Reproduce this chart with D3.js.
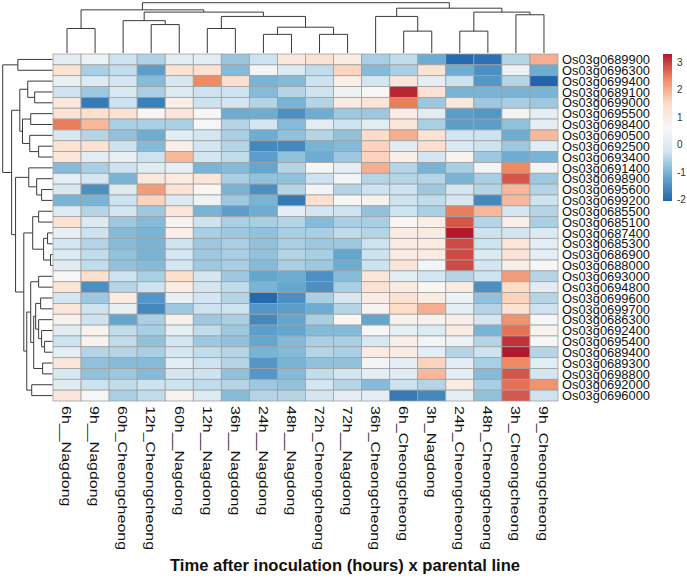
<!DOCTYPE html>
<html>
<head>
<meta charset="utf-8">
<script src="https://cdn.jsdelivr.net/npm/d3@7"></script>
<style>
  body { margin: 0; background: #fff; }
  svg { display: block; font-family: "Liberation Sans", Arial, sans-serif; }
</style>
</head>
<body>
<svg id="chart" width="687" height="584"></svg>
<script>
// column labels in dendrogram order
const colLabels = ["6h__Nagdong", "9h__Nagdong", "60h_Cheongcheong", "12h_Cheongcheong", "60h__Nagdong",
  "12h__Nagdong", "36h__Nagdong", "24h__Nagdong", "48h__Nagdong", "72h_Cheongcheong", "72h__Nagdong",
  "36h_Cheongcheong", "6h_Cheongcheong", "3h_Nagdong", "24h_Cheongcheong", "48h_Cheongcheong",
  "3h_Cheongcheong", "9h_Cheongcheong"];

const rowLabels = ["Os03g0689900", "Os03g0696300", "Os03g0699400", "Os03g0689100", "Os03g0699000",
  "Os03g0695500", "Os03g0698400", "Os03g0690500", "Os03g0692500", "Os03g0693400", "Os03g0691400",
  "Os03g0698900", "Os03g0695600", "Os03g0699200", "Os03g0685500", "Os03g0685100", "Os03g0687400",
  "Os03g0685300", "Os03g0686900", "Os03g0688000", "Os03g0693000", "Os03g0694800", "Os03g0699600",
  "Os03g0699700", "Os03g0686300", "Os03g0692400", "Os03g0695400", "Os03g0689400", "Os03g0689300",
  "Os03g0698800", "Os03g0692000", "Os03g0696000"];

// scaled expression, one row per gene
const values = [
  [0.1, 0.4, -0.3, -0.55, 0.1, 0.1, -0.75, -0.3, 1.1, 1.3, 1.0, -0.6, -0.4, -1.1, -2.0, -1.9, -0.5, 2.0],
  [1.3, -0.6, -0.4, -1.3, 1.3, 1.3, -0.9, 0.5, 0.0, -0.4, 1.6, -0.9, -0.6, 1.3, -1.1, -1.5, 0.4, -1.1],
  [0.3, 0.0, -0.2, -0.9, -0.1, 2.4, 1.4, -1.0, -0.9, -0.3, 0.9, -0.2, 1.2, 0.2, -0.3, -1.4, -0.5, -2.05],
  [-0.3, -0.7, -0.1, -0.6, 0.0, -0.3, -0.3, -0.9, -0.5, -0.3, 0.4, 0.6, 3.2, 1.3, -1.0, -1.0, -1.0, -1.0],
  [1.1, -1.8, -0.3, -1.7, 0.9, -0.3, -0.2, -0.5, -1.0, -0.5, 1.0, 1.2, 2.5, -0.7, 1.1, -0.7, -0.6, -0.7],
  [1.3, 1.4, 1.3, 0.7, 1.2, 0.6, -1.1, -1.1, -1.5, -1.1, -0.7, -0.7, 1.0, 0.1, -1.3, -1.4, 0.5, 0.2],
  [2.5, 1.9, -0.6, -0.6, -0.6, 0.6, -0.5, -0.2, -0.9, 0.1, -0.3, 0.1, 1.2, -0.6, -1.3, -1.3, -0.8, 0.2],
  [-0.1, -0.5, -0.8, -1.1, 0.1, -0.2, -0.6, -1.1, -0.8, -0.5, -0.8, 1.5, 2.0, 1.3, -0.2, -0.3, -1.1, 1.9],
  [1.3, 1.3, -0.3, -0.9, 0.9, -0.2, -0.5, -1.6, -1.6, -1.0, -0.9, 1.6, 0.1, 1.4, 0.0, -0.3, -0.7, 0.1],
  [1.2, 0.1, 0.3, -0.3, 1.9, -0.2, -0.4, -1.3, -0.8, -1.1, -0.7, 1.6, 0.9, -0.2, 0.8, -0.7, -1.1, -1.0],
  [-0.9, -0.6, -0.3, 0.1, 0.3, -1.0, -0.9, -1.2, -0.5, 0.6, 0.2, 2.0, -0.5, -1.0, -0.6, 0.5, 2.4, 0.5],
  [0.2, -0.2, -1.0, 1.1, 1.0, 1.2, -0.6, -0.8, -0.8, -0.3, 0.5, -0.5, -0.5, -0.5, -1.0, -0.6, 2.8, -0.7],
  [-0.1, -1.5, 0.0, 2.2, 1.3, 0.7, -1.0, -1.5, -0.5, 0.5, -0.5, -0.3, -0.3, -0.7, -0.2, -0.5, 1.9, -0.5],
  [-1.0, -1.0, -0.3, 1.6, 0.0, 0.4, -0.7, -1.0, -1.8, 1.4, 0.6, 0.8, -0.3, -0.4, -0.1, -1.6, 1.9, -0.3],
  [0.0, -0.5, -0.2, -0.7, 1.2, -1.0, -1.3, -1.1, 0.2, -0.2, -0.3, -0.8, -0.3, -0.6, 2.5, 1.9, -0.2, -0.5],
  [1.3, 0.0, -0.7, -0.9, 0.8, -0.3, -0.6, -0.6, -0.5, -0.9, -0.6, -0.6, 0.7, 0.9, 2.8, -0.5, 0.9, -0.6],
  [0.3, -0.3, -0.9, -1.0, 0.9, -0.6, -0.7, -0.8, -0.6, -0.6, -0.4, -0.5, 1.0, 1.0, 3.3, -0.3, -0.2, 0.0],
  [-0.2, -0.5, -0.9, -1.0, -0.3, -0.7, -0.6, -0.8, -0.6, -0.7, -0.7, -0.3, 1.0, 1.0, 2.9, -0.3, 1.2, 0.2],
  [0.0, -0.4, -0.8, -1.0, -0.2, -0.7, -0.6, -0.8, -0.5, -0.6, -1.2, -0.3, 1.0, 1.0, 2.9, 0.0, 1.2, 0.2],
  [0.1, -0.4, -0.8, -0.9, -0.2, -0.7, -0.6, -0.9, -0.6, -0.7, -1.1, -0.3, 1.2, 0.5, 2.9, -0.2, 0.9, 0.6],
  [0.6, 1.4, -0.3, -0.6, 1.4, -0.2, -0.7, -1.2, -1.1, -1.5, -0.9, 1.2, 0.1, -0.2, -0.5, -0.3, 2.2, -0.5],
  [1.2, -1.5, -0.5, -0.3, 1.0, -0.2, -0.4, -1.0, -1.2, -1.5, -0.6, 1.3, 1.0, 0.7, 1.0, -1.5, 1.5, 0.1],
  [-0.2, -0.7, 1.0, -1.4, 0.3, -0.2, -0.5, -2.0, -1.5, -0.6, -0.1, 1.0, 1.3, 1.0, 0.4, -0.8, 1.6, -0.5],
  [1.2, -0.3, 0.3, -1.6, -0.7, -0.3, -0.3, -1.4, -1.3, -1.1, -0.5, 0.8, 1.5, 2.0, 0.2, -0.5, 1.3, -0.3],
  [0.8, -0.3, -1.2, -0.6, 0.8, -0.7, -0.6, -1.6, -1.2, -0.6, 0.7, -1.2, 0.8, 0.8, 0.9, -0.2, 2.3, 0.6],
  [0.1, 0.8, -0.4, -0.6, 0.2, -0.4, -0.7, -1.3, -1.2, -0.9, -0.9, 0.6, 0.2, 0.0, 1.0, -1.0, 2.6, 0.8],
  [-0.3, 0.8, -0.4, -0.8, -0.2, -0.7, -0.8, -1.2, -0.9, -0.6, -0.6, -0.1, 0.9, 0.5, 0.4, -0.5, 3.1, 0.6],
  [0.2, -0.5, -0.5, -0.6, -0.2, -0.4, -0.5, -1.0, -0.9, -0.5, -0.6, 1.0, 1.0, 0.2, -0.5, -0.3, 3.3, -0.5],
  [1.2, -0.8, -0.9, -0.9, 0.1, -0.3, -0.5, -1.4, -1.0, -0.8, -0.8, 0.5, 0.2, 1.6, 0.1, -0.6, 2.4, 0.1],
  [-0.1, -0.8, -0.7, -0.9, -0.2, -0.3, -0.8, -1.4, -0.9, -0.4, -0.2, 0.2, 0.1, 1.9, 0.2, -0.9, 2.8, -0.2],
  [0.1, -0.3, -0.4, -0.3, -0.3, -0.4, -0.5, -0.7, -0.8, -0.2, -0.5, -0.9, -0.3, -0.5, 1.0, -0.6, 2.6, 2.3],
  [1.2, 0.6, -0.6, -0.4, 0.8, 0.0, -0.9, -0.5, -0.5, -0.2, 0.2, 0.2, -1.8, -1.6, 0.2, -0.8, 2.8, -0.3]
];

// dendrograms: [left, right, height], leaves are indices
const colTree = [
  [[0, 1, 25], [[2, [3, 4, 29], 33], [[5, 6, 25], [[7, 8, 19], [9, 10, 19], 26.3], 37.3], 41.7], 44],
  [[11, [12, 13, 22.3], 37.3], [[14, 15, 22.3], [16, 17, 39], 41.7], 45.7],
  51.3];

const rowTree = [
  [0, 1, 35],
  [[[2, [3, 4, 18], 25], [[5, 6, 22], [7, [8, 9, 14], 23], 30.3], 33],
   [[10, [11, [12, 13, 11], 16], 24],
    [[[14, 15, 14], [[16, 17, 5], [18, 19, 2], 9], 20],
     [[[20, 21, 14], [[[22, 23, 12], [24, [25, [26, 27, 8], 11], 14], 17], [28, 29, 10], 19], 22], [30, 31, 21], 26],
     29],
    37.3],
   41.3],
  50.3];

const legendTicks = [3, 2, 1, 0, -1, -2];
const vMin = -2.05, vMax = 3.3;

const svg = d3.select("#chart");
const plotLeft = 53, plotRight = 558, plotTop = 54, plotBottom = 401;

const x = d3.scaleBand().domain(d3.range(colLabels.length)).range([plotLeft, plotRight]);
const y = d3.scaleBand().domain(d3.range(rowLabels.length)).range([plotTop, plotBottom]);

const palette = ["#2166AC", "#67A9CF", "#D1E5F0", "#F7F7F7", "#FDDBC7", "#EF8A62", "#B2182B"];
const color = d3.scaleLinear()
  .domain(palette.map((d, i) => vMin + i * (vMax - vMin) / (palette.length - 1)))
  .range(palette)
  .interpolate(d3.interpolateRgb);

// cells
const cells = [];
values.forEach((row, r) => row.forEach((v, c) => cells.push({ r, c, v })));
svg.append("g").selectAll("rect")
  .data(cells)
  .join("rect")
  .attr("x", d => x(d.c))
  .attr("y", d => y(d.r))
  .attr("width", x.bandwidth())
  .attr("height", y.bandwidth())
  .attr("fill", d => color(d.v))
  .attr("stroke", "#a0a0a0")
  .attr("stroke-width", 0.8);

// dendrogram helpers
function layout(node, pos) {
  if (typeof node === "number") return { p: pos(node), h: 0 };
  const a = layout(node[0], pos), b = layout(node[1], pos);
  return { p: (a.p + b.p) / 2, h: node[2], a, b };
}
function segments(n, out) {
  if (!n.a) return out;
  out.push([n.a.p, n.a.h, n.a.p, n.h], [n.a.p, n.h, n.b.p, n.h], [n.b.p, n.h, n.b.p, n.b.h]);
  segments(n.a, out); segments(n.b, out);
  return out;
}

const colH = d3.scaleLinear().domain([0, 51.3]).range([53, 2.7]);
const colSegs = segments(layout(colTree, i => x(i) + x.bandwidth() / 2), []);
svg.append("g").selectAll("line")
  .data(colSegs)
  .join("line")
  .attr("x1", d => d[0]).attr("y1", d => colH(d[1]))
  .attr("x2", d => d[2]).attr("y2", d => colH(d[3]))
  .attr("stroke", "#3a3a3a").attr("stroke-width", 1);

const rowH = d3.scaleLinear().domain([0, 50.3]).range([52.5, 2.7]);
const rowSegs = segments(layout(rowTree, i => y(i) + y.bandwidth() / 2), []);
svg.append("g").selectAll("line")
  .data(rowSegs)
  .join("line")
  .attr("x1", d => rowH(d[1])).attr("y1", d => d[0])
  .attr("x2", d => rowH(d[3])).attr("y2", d => d[2])
  .attr("stroke", "#3a3a3a").attr("stroke-width", 1);

// row labels (narrow, as in the original)
svg.append("g").selectAll("text")
  .data(rowLabels)
  .join("text")
  .attr("x", plotRight + 4)
  .attr("y", (d, i) => y(i) + y.bandwidth() / 2)
  .attr("dy", "0.36em")
  .attr("font-size", 13)
  .attr("textLength", 88)
  .attr("lengthAdjust", "spacingAndGlyphs")
  .attr("fill", "#111")
  .text(d => d);

// column labels, squeezed across the reading direction
svg.append("g").selectAll("text")
  .data(colLabels)
  .join("text")
  .attr("transform", (d, i) => `translate(${x(i) + x.bandwidth() / 2},${plotBottom + 5}) scale(0.82,1) rotate(90)`)
  .attr("dy", "0.36em")
  .attr("font-size", 16)
  .attr("fill", "#111")
  .text(d => d);

// legend
const ly = d3.scaleLinear().domain([vMin, vMax]).range([201, 54]);
const grad = svg.append("defs").append("linearGradient")
  .attr("id", "lg").attr("x1", 0).attr("y1", 1).attr("x2", 0).attr("y2", 0);
grad.selectAll("stop")
  .data(color.domain())
  .join("stop")
  .attr("offset", d => (d - vMin) / (vMax - vMin))
  .attr("stop-color", d => color(d));
svg.append("rect")
  .attr("x", 663).attr("y", ly(vMax))
  .attr("width", 9).attr("height", ly(vMin) - ly(vMax))
  .attr("fill", "url(#lg)");
svg.append("g").selectAll("text")
  .data(legendTicks)
  .join("text")
  .attr("x", 677)
  .attr("y", d => ly(d))
  .attr("dy", "0.36em")
  .attr("font-size", 10)
  .attr("fill", "#333")
  .text(d => d);

// title
svg.append("text")
  .attr("x", 345).attr("y", 571)
  .attr("text-anchor", "middle")
  .attr("font-size", 17)
  .attr("font-weight", "bold")
  .attr("textLength", 350)
  .attr("lengthAdjust", "spacingAndGlyphs")
  .attr("fill", "#111")
  .text("Time after inoculation (hours) x parental line");
</script>
</body>
</html>
